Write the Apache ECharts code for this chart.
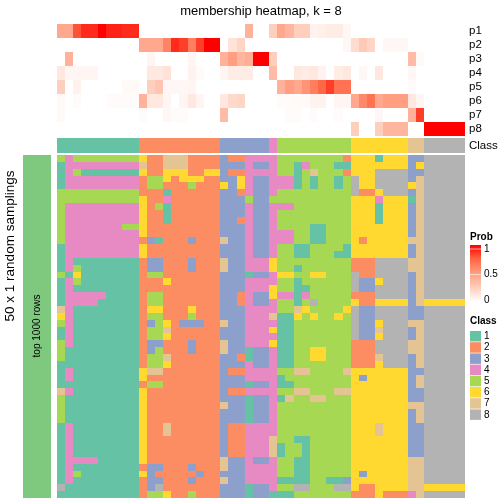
<!DOCTYPE html>
<html><head><meta charset="utf-8">
<script src="https://cdn.jsdelivr.net/npm/echarts@6/dist/echarts.min.js"></script>
<style>html,body{margin:0;padding:0;background:#fff}#c{width:504px;height:504px}</style>
</head><body><div id="c"></div>
<script>
const titleText = 'membership heatmap, k = 8';
const probLabels = ['p1','p2','p3','p4','p5','p6','p7','p8'];
const classNames = ['1','2','3','4','5','6','7','8'];
const classColors = ['#66C2A5','#FC8D62','#8DA0CB','#E78AC3','#A6D854','#FFD92F','#E5C494','#B3B3B3'];
const probTicks = ['1','0.5','0'];

const classOfSample = [1,1,1,1,1,1,1,1,1,1, 2,2,2,2,2,2,2,2,2,2, 3,3,3,3,3,3,4,5,5,5, 5,5,5,5,5,5,6,6,6,6, 6,6,6,7,7,8,8,8,8,8];

const p1 = [.45,.45,.8,.9,.9,1,.92,.92,.9,.9, 0,0,0,0,0,0,0,0,0,0, 0,0,0,.4,0,0,.25,.45,.38,.25, .25,.06,.08,.1,.1,.04,0,0,0,0, 0,0,0,0,0,0,0,0,0,0];
const p2 = [0,0,0,0,0,0,0,0,0,0, .45,.45,.45,.62,.9,.85,.65,.85,1,1, 0,.15,.22,0,0,0,0,0,0,0, 0,0,0,0,0,.04,.18,.28,.22,0, .04,.04,.04,0,0,0,0,0,0,0];
const p3 = [0,.4,0,0,0,0,0,0,0,0, 0,.05,0,0,0,0,.05,0,0,0, .4,.5,.38,.42,1,1,.25,0,0,0, 0,0,0,0,0,0,0,0,0,0, 0,0,0,.35,.03,0,0,0,0,0];
const p4 = [.12,.05,.05,.05,.05,0,0,0,0,0, 0,.12,.12,.15,0,0,.06,.02,0,0, .05,.1,.1,.1,0,0,.35,0,0,.12, .1,.12,.06,0,.1,.12,0,.04,0,.12, 0,0,0,.04,0,0,0,0,0,0];
const p5 = [.25,0,.07,0,0,0,0,0,.03,.03, 0,.25,.3,.04,.04,.04,.05,0,0,0, 0,0,0,0,0,0,0,.4,.5,.45, .55,.65,.75,.85,.7,.7,0,0,0,0, 0,0,0,.02,0,0,0,0,0,0];
const p6 = [.03,0,.02,0,0,0,.02,.02,.02,.02, .4,.12,.12,.05,0,.05,.12,.05,0,0, .12,.2,.22,0,0,0,0,.02,.02,.03, .03,.06,.06,0,.05,.05,.45,.6,.7,.45, .5,.5,.5,.12,.05,0,0,0,0,0];
const p7 = [.03,0,0,0,0,0,0,0,0,0, .02,0,0,.04,.02,.02,0,0,0,0, .35,0,0,0,0,0,0,0,.02,.02, 0,.02,0,0,.02,0,0,0,0,.04, 0,0,0,.4,.85,0,0,0,0,0];
const p8 = [0,0,0,0,0,0,0,0,0,0, 0,0,0,0,0,0,0,0,0,0, 0,0,0,0,0,0,0,0,0,0, 0,0,0,0,0,0,.25,0,0,.25, .38,.38,.38,0,0,1,1,1,1,1];

const samplingRows = [
[5,4,5,5,5,5,5,5,5,5,6,2,2,7,7,7,2,2,2,2,3,2,2,4,4, 4,4,5,5,5,5,5,5,5,5,2,6,6,6,1,6,6,6,3,3,8,8,8,8,8],
[1,4,4,4,4,4,4,4,4,4,7,2,2,7,7,7,2,2,2,2,3,3,3,4,3, 3,4,5,5,1,4,5,5,5,1,1,6,6,6,6,6,6,6,3,6,8,8,8,8,8],
[1,4,5,1,1,1,1,1,1,1,6,2,2,6,6,6,2,2,6,6,3,2,2,4,4, 4,4,5,5,1,5,7,5,5,5,2,6,6,6,8,8,8,8,3,3,8,8,8,8,8],
[1,4,4,4,4,4,4,4,4,4,2,5,5,6,2,6,6,6,2,2,3,3,6,4,3, 3,4,4,4,1,5,1,5,5,1,5,8,6,6,8,8,8,8,3,7,8,8,8,8,8],
[1,4,4,4,4,4,4,4,4,4,2,5,5,2,2,2,5,2,2,2,6,3,6,4,3, 3,4,4,4,1,5,1,5,5,1,5,8,6,6,8,8,8,8,6,7,8,8,8,8,8],
[5,5,5,5,5,5,5,5,5,5,2,2,2,1,2,2,2,2,2,2,3,3,2,4,3, 3,4,5,5,5,5,5,5,5,5,5,8,2,2,6,8,8,8,3,7,8,8,8,8,8],
[5,5,5,5,5,5,5,5,5,5,6,2,2,4,2,2,2,2,2,2,3,3,3,5,3, 3,5,5,5,5,5,5,5,5,5,5,6,6,6,4,6,6,6,1,7,8,8,8,8,8],
[5,4,4,4,4,4,4,4,4,4,6,2,5,1,2,2,2,2,2,2,3,3,3,4,3, 3,4,4,4,5,5,5,5,5,5,5,6,6,6,1,6,6,6,3,7,8,8,8,8,8],
[5,4,4,4,4,4,4,4,4,4,6,2,2,1,2,2,2,2,2,2,3,3,3,4,3, 3,4,5,5,5,5,5,5,5,5,5,6,6,6,1,6,6,6,3,7,8,8,8,8,8],
[5,4,4,4,4,4,4,4,4,4,6,2,2,1,2,2,2,2,2,2,3,3,2,4,3, 3,4,5,5,5,5,5,5,5,5,5,6,6,6,1,6,6,6,3,7,8,8,8,8,8],
[5,4,4,4,4,4,4,4,5,5,6,2,2,2,2,2,2,2,2,2,3,3,3,4,3, 3,4,5,5,5,5,1,1,5,5,5,6,6,6,6,6,6,6,3,7,8,8,8,8,8],
[5,4,4,4,4,4,4,4,4,4,6,2,2,2,2,2,2,2,2,2,3,3,3,4,3, 3,4,4,4,5,5,1,1,5,5,5,6,6,6,6,6,6,6,3,7,8,8,8,8,8],
[5,4,4,4,4,4,4,4,4,4,2,3,1,2,2,2,3,2,2,2,7,3,3,4,3, 3,4,4,4,5,5,1,1,5,5,5,6,2,6,6,6,6,6,7,7,8,8,8,8,8],
[1,4,4,4,4,4,4,4,4,4,6,2,2,2,2,2,2,2,2,2,3,3,3,4,3, 3,4,5,5,1,1,5,5,5,5,1,6,6,6,6,6,6,6,3,7,8,8,8,8,8],
[1,4,4,4,4,4,4,4,4,4,6,2,2,2,2,2,2,2,2,2,3,3,3,4,3, 3,4,5,5,1,1,5,5,5,1,1,6,6,6,6,6,6,6,3,7,8,8,8,8,8],
[1,4,1,1,1,1,1,1,1,1,2,3,3,2,2,2,3,2,2,2,7,3,3,4,4, 4,6,5,5,5,5,5,5,5,5,5,2,2,2,8,8,8,8,7,7,8,8,8,8,8],
[1,4,5,1,1,1,1,1,1,1,2,3,3,2,2,2,3,2,2,2,7,3,3,4,4, 4,6,5,5,1,5,5,5,5,5,5,2,2,2,8,8,8,8,7,7,8,8,8,8,8],
[5,1,6,1,1,1,1,1,1,1,2,5,5,2,2,2,2,2,2,2,3,3,3,1,3, 3,4,6,6,5,5,6,6,5,5,5,8,2,2,8,8,8,8,3,7,8,8,8,8,8],
[1,4,5,1,1,1,1,1,1,1,2,2,2,6,2,2,2,2,2,2,3,3,3,4,4, 4,4,5,5,1,5,5,5,5,5,5,8,3,3,6,8,8,8,3,7,8,8,8,8,8],
[1,4,1,1,1,1,1,1,1,1,2,2,2,2,2,2,2,2,2,2,3,3,3,4,4, 4,6,5,5,1,1,5,5,5,5,5,8,3,3,8,8,8,8,3,7,8,8,8,8,8],
[1,4,4,4,4,4,1,1,1,1,2,5,5,2,2,2,2,2,2,2,3,3,2,4,3, 3,6,4,4,1,4,5,5,5,5,5,2,2,2,8,8,8,8,3,7,8,8,8,8,8],
[1,4,4,4,4,1,1,1,1,1,2,5,5,2,2,2,2,2,2,2,3,3,2,4,3, 3,4,5,5,1,5,8,5,5,5,5,6,2,2,6,6,6,6,3,7,6,6,6,6,6],
[7,4,1,1,1,1,1,1,1,1,2,6,6,2,2,2,6,2,2,2,3,3,3,4,4, 4,4,5,5,7,6,5,5,5,5,6,8,3,3,8,8,8,8,3,3,8,8,8,8,8],
[6,4,1,1,1,1,1,1,1,1,2,5,5,2,2,2,5,2,2,2,3,3,3,4,4, 4,7,1,1,6,5,6,5,5,6,5,8,3,3,8,8,8,8,3,3,8,8,8,8,8],
[5,4,1,1,1,1,1,1,1,1,2,3,5,6,2,3,3,3,2,2,7,3,3,4,4, 4,4,1,1,5,5,5,5,5,5,5,8,3,3,6,8,8,8,7,7,8,8,8,8,8],
[1,4,1,1,1,1,1,1,1,1,2,5,5,7,2,2,2,2,2,2,3,3,3,4,4, 4,6,1,1,5,5,5,5,5,5,5,8,3,3,7,8,8,8,3,7,8,8,8,8,8],
[1,4,1,1,1,1,1,1,1,1,2,5,5,6,2,2,2,2,2,2,3,3,3,4,4, 4,4,1,1,5,5,5,5,5,5,5,8,3,3,6,8,8,8,3,7,8,8,8,8,8],
[5,4,1,1,1,1,1,1,1,1,2,3,3,2,2,2,3,2,2,2,7,3,3,4,4, 4,6,1,1,5,5,5,5,5,5,5,2,2,2,8,8,8,8,7,7,8,8,8,8,8],
[5,1,1,1,1,1,1,1,1,1,2,3,5,2,2,2,3,2,2,2,7,3,3,1,3, 3,4,1,1,5,5,6,6,5,5,5,2,2,2,8,8,8,8,7,7,8,8,8,8,8],
[5,1,1,1,1,1,1,1,1,1,2,5,5,7,2,2,2,2,2,2,3,3,2,1,3, 3,4,1,1,5,5,6,6,5,5,5,2,2,2,7,8,8,8,3,7,8,8,8,8,8],
[1,1,1,1,1,1,1,1,1,1,2,5,5,6,2,2,2,2,2,2,3,3,3,4,3, 3,4,1,1,5,5,5,5,5,5,5,2,2,2,6,8,8,8,3,7,8,8,8,8,8],
[1,4,1,1,1,1,1,1,1,1,6,7,7,2,2,2,2,2,2,2,3,2,2,4,4, 4,4,5,5,7,7,5,5,5,5,7,6,6,6,6,6,6,6,3,3,8,8,8,8,8],
[1,4,1,1,1,1,1,1,1,1,6,2,2,2,2,2,2,2,2,2,3,3,3,4,4, 4,4,1,5,5,5,5,5,5,5,5,6,3,6,6,6,6,6,3,7,8,8,8,8,8],
[1,1,1,1,1,1,1,1,1,1,2,5,5,2,2,2,2,2,2,2,3,3,3,1,3, 3,4,1,1,5,5,5,5,5,5,5,6,6,6,6,6,6,6,3,7,8,8,8,8,8],
[7,4,1,1,1,1,1,1,1,1,6,2,2,2,2,2,2,2,2,2,3,2,2,4,4, 4,4,5,5,7,7,5,5,5,7,7,6,6,6,6,6,6,6,3,3,8,8,8,8,8],
[5,1,1,1,1,1,1,1,1,1,6,2,2,2,2,2,2,2,2,2,3,3,3,1,3, 3,4,1,7,5,5,7,7,5,5,5,6,6,6,6,6,6,6,3,3,8,8,8,8,8],
[5,1,1,1,1,1,1,1,1,1,6,2,2,2,2,2,2,2,2,2,7,3,3,1,3, 3,4,5,5,5,5,5,5,5,5,5,6,6,6,6,6,6,6,7,7,8,8,8,8,8],
[5,1,1,1,1,1,1,1,1,1,6,2,2,2,2,2,2,2,2,2,3,3,3,1,3, 3,4,5,5,5,5,5,5,5,5,5,6,6,6,6,6,6,6,3,7,8,8,8,8,8],
[5,1,1,1,1,1,1,1,1,1,6,2,2,2,2,2,2,2,2,2,3,3,3,1,3, 3,4,5,5,5,5,5,5,5,5,5,6,6,6,6,6,6,6,3,7,8,8,8,8,8],
[1,4,1,1,1,1,1,1,1,1,6,2,2,7,2,2,2,2,2,2,3,2,2,4,4, 4,4,5,5,5,5,5,5,5,5,5,6,6,6,7,6,6,6,3,3,8,8,8,8,8],
[1,4,1,1,1,1,1,1,1,1,6,2,2,7,2,2,2,2,2,2,3,2,2,4,4, 4,4,5,5,5,5,5,5,5,5,5,6,6,6,7,6,6,6,3,3,8,8,8,8,8],
[1,4,1,1,1,1,1,1,1,1,6,2,2,2,2,2,2,2,2,2,3,2,2,4,4, 4,7,5,5,1,1,5,5,5,5,5,6,6,6,6,6,6,6,3,3,8,8,8,8,8],
[1,4,1,1,1,1,1,1,1,1,6,2,2,2,2,2,2,2,2,2,3,2,2,4,4, 4,7,1,5,5,1,5,5,5,5,5,6,6,6,6,6,6,6,3,3,8,8,8,8,8],
[1,4,1,1,1,1,1,1,1,1,6,2,2,2,2,2,2,2,2,2,3,2,2,4,4, 4,7,1,5,5,1,5,5,5,5,5,6,6,6,6,6,6,6,3,3,8,8,8,8,8],
[1,4,4,4,4,1,1,1,1,1,6,2,2,2,2,2,2,2,2,2,7,3,3,4,3, 3,4,5,5,1,1,5,5,5,5,5,6,6,6,6,6,6,6,7,7,8,8,8,8,8],
[1,4,1,1,1,1,1,1,1,1,2,3,3,2,2,2,3,2,2,2,7,3,3,4,4, 4,4,5,5,1,1,5,5,5,5,5,6,6,6,6,6,6,6,7,7,8,8,8,8,8],
[1,4,5,1,1,1,1,1,1,1,6,3,2,2,2,2,2,3,2,2,3,3,3,4,4, 4,4,5,5,1,1,5,5,5,5,5,6,3,6,6,6,6,6,7,7,8,8,8,8,8],
[1,4,1,1,1,1,1,1,1,1,2,3,3,2,2,2,3,2,2,2,7,3,3,4,4, 4,4,1,1,1,1,5,5,1,1,3,6,6,6,6,6,6,6,7,7,8,8,8,8,8],
[8,1,1,1,1,1,1,1,1,1,2,3,8,2,2,2,2,2,2,2,3,3,3,1,3, 3,4,5,5,8,8,5,5,5,8,8,6,2,2,6,6,6,6,7,7,6,6,6,6,6],
[1,1,1,1,1,1,1,1,1,1,2,5,5,6,2,2,5,2,2,2,3,3,3,1,3, 3,1,1,1,5,5,5,5,5,5,5,2,2,2,6,2,2,2,4,7,8,8,8,8,8]
];

const FONT = '"Liberation Sans", Arial, Helvetica, sans-serif';
const probRows = [p1,p2,p3,p4,p5,p6,p7,p8];
const sampleIdx = classOfSample.map((_, i) => String(i));
const probData = [];
probRows.forEach((row, r) => row.forEach((v, c) => probData.push([c, r, v])));
const classData = classOfSample.map((v, c) => [c, 0, v]);
const mainData = [];
samplingRows.forEach((row, r) => row.forEach((v, c) => mainData.push([c, r, v])));
const rowIdx = samplingRows.map((_, i) => String(i));

const L = 57, W = 408;
const hidden = {show:false};
function catX(gi){ return {type:'category', gridIndex:gi, data:sampleIdx, show:false, boundaryGap:true}; }

// Draw heatmap cells through the axes with pixel-snapped edges (no seams)
function cellRender(params, api) {
  const c = api.coord([api.value(0), api.value(1)]);
  const s = api.size([1, 1]);
  const x0 = Math.round(c[0] - s[0]/2), x1 = Math.round(c[0] + s[0]/2);
  const y0 = Math.round(c[1] - s[1]/2), y1 = Math.round(c[1] + s[1]/2);
  return {type:'rect', shape:{x:x0, y:y0, width:x1-x0, height:y1-y0},
          style:{fill:api.visual('color')}};
}

const chart = echarts.init(document.getElementById('c'), null, {renderer:'canvas'});
const gradColors = ['#FFFFFF','#FFCFBE','#FF9E81','#FF6846','#FF0000'];

const G = [];
G.push({type:'text', x:261, y:11, style:{text:titleText, font:'13px ' + FONT, fill:'#000', textAlign:'center', textVerticalAlign:'middle'}});
// Prob legend
G.push({type:'text', x:470, y:237, style:{text:'Prob', font:'bold 10px ' + FONT, fill:'#000', textVerticalAlign:'middle'}});
G.push({type:'rect', shape:{x:470, y:245, width:11, height:57},
  style:{fill:new echarts.graphic.LinearGradient(0,0,0,1,[
    {offset:0,color:gradColors[4]},{offset:0.25,color:gradColors[3]},{offset:0.5,color:gradColors[2]},{offset:0.75,color:gradColors[1]},{offset:1,color:gradColors[0]}])}});
[[249,probTicks[0]],[274.5,probTicks[1]],[300,probTicks[2]]].forEach(([y,t]) => {
  G.push({type:'line', shape:{x1:470,y1:y,x2:481,y2:y}, style:{stroke:'rgba(255,255,255,0.6)', lineWidth:1}});
  G.push({type:'text', x:484, y:y, style:{text:t, font:'10px ' + FONT, fill:'#000', textVerticalAlign:'middle'}});
});
// Class legend
G.push({type:'text', x:470, y:321, style:{text:'Class', font:'bold 10px ' + FONT, fill:'#000', textVerticalAlign:'middle'}});
classNames.forEach((n, i) => {
  const y = 331 + i*11.2;
  G.push({type:'rect', shape:{x:470, y:y, width:11, height:10.5}, style:{fill:classColors[i]}});
  G.push({type:'text', x:484, y:y+5.5, style:{text:n, font:'10px ' + FONT, fill:'#000', textVerticalAlign:'middle'}});
});
// Left annotation
G.push({type:'rect', shape:{x:23, y:155, width:28, height:343}, style:{fill:'#7FC97F'}});
G.push({type:'text', x:37, y:326, rotation:Math.PI/2, style:{text:'top 1000 rows', font:'10px ' + FONT, fill:'#000', textAlign:'center', textVerticalAlign:'middle'}});
G.push({type:'text', x:10, y:246, rotation:Math.PI/2, style:{text:'50 x 1 random samplings', font:'13.5px ' + FONT, fill:'#000', textAlign:'center', textVerticalAlign:'middle'}});

const labelAxis = (gi, data, inv) => ({type:'category', gridIndex:gi, data:data, inverse:inv, position:'right',
  axisLine:hidden, axisTick:hidden, splitLine:hidden,
  axisLabel:{interval:0, fontSize:11.5, color:'#000', margin:4, fontFamily:FONT}});

const option = {
  animation:false,
  backgroundColor:'#fff',
  textStyle:{fontFamily:FONT},
  grid:[
    {left:L, top:24, width:W, height:112},
    {left:L, top:138.3, width:W, height:14.4},
    {left:L, top:155, width:W, height:343}
  ],
  xAxis:[catX(0), catX(1), catX(2)],
  yAxis:[
    labelAxis(0, probLabels, true),
    labelAxis(1, ['Class'], false),
    {type:'category', gridIndex:2, data:rowIdx, inverse:true, show:false}
  ],
  visualMap:[
    {type:'continuous', min:0, max:1, seriesIndex:0, dimension:2, show:false, inRange:{color:gradColors}},
    {type:'piecewise', seriesIndex:[1,2], dimension:2, show:false,
     pieces:classColors.map((c,i)=>({value:i+1, color:c}))}
  ],
  series:[
    {type:'custom', xAxisIndex:0, yAxisIndex:0, data:probData, renderItem:cellRender, progressive:0, silent:true},
    {type:'custom', xAxisIndex:1, yAxisIndex:1, data:classData, renderItem:cellRender, progressive:0, silent:true},
    {type:'custom', xAxisIndex:2, yAxisIndex:2, data:mainData, renderItem:cellRender, progressive:0, silent:true}
  ],
  graphic:G
};
chart.setOption(option);
</script>
</body></html>
